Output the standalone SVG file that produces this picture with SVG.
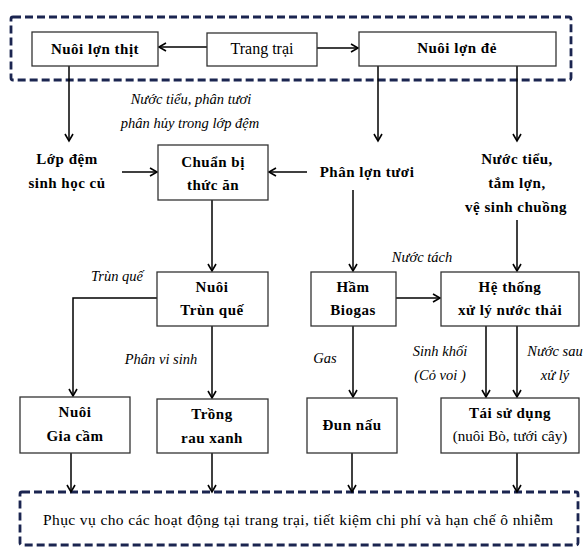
<svg xmlns="http://www.w3.org/2000/svg" width="587" height="547" viewBox="0 0 587 547" font-family="'Liberation Serif', 'DejaVu Serif', serif">
<defs>
<marker id="ah" markerWidth="10" markerHeight="10" refX="8" refY="5" orient="auto" markerUnits="userSpaceOnUse">
<path d="M1,1 L8,5 L1,9" fill="none" stroke="#000" stroke-width="1.6"/>
</marker>
<style>
.bx{fill:#fff;stroke:#333;stroke-width:1.3}
.dash{fill:none;stroke:#1b2550;stroke-width:2.8;stroke-dasharray:8 4}
.ar{fill:none;stroke:#000;stroke-width:1.5;marker-end:url(#ah)}
text{font-family:'Liberation Serif','DejaVu Serif',serif;fill:#000;text-anchor:middle}
.b{font-weight:bold;font-size:15px;letter-spacing:0.5px}
.r{font-size:15px}
.i{font-style:italic;font-size:14.5px}
</style>
</defs>
<rect class="dash" x="11" y="17" width="560" height="63" rx="2"/>
<rect class="dash" x="20" y="492" width="558" height="53" rx="2"/>
<g id="connectors">
<line class="ar" x1="207" y1="47" x2="159" y2="47"/>
<line class="ar" x1="317" y1="48" x2="358" y2="48"/>
<line class="ar" x1="69" y1="66" x2="69" y2="141"/>
<line class="ar" x1="378" y1="66" x2="378" y2="141"/>
<line class="ar" x1="517" y1="66" x2="517" y2="141"/>
<line class="ar" x1="122" y1="172" x2="157" y2="172"/>
<line class="ar" x1="307" y1="172" x2="269" y2="172"/>
<line class="ar" x1="212" y1="200" x2="212" y2="271"/>
<line class="ar" x1="353" y1="190" x2="353" y2="271"/>
<line class="ar" x1="517" y1="220" x2="517" y2="271"/>
<line class="ar" x1="396" y1="298" x2="440" y2="298"/>
<polyline class="ar" points="157,298 73,298 73,396"/>
<line class="ar" x1="212" y1="326" x2="212" y2="398"/>
<line class="ar" x1="353" y1="326" x2="353" y2="397"/>
<line class="ar" x1="486" y1="326" x2="486" y2="397"/>
<line class="ar" x1="517" y1="326" x2="517" y2="397"/>
<line class="ar" x1="71" y1="453" x2="71" y2="492"/>
<line class="ar" x1="212" y1="453" x2="212" y2="492"/>
<line class="ar" x1="352" y1="453" x2="352" y2="492"/>
<line class="ar" x1="517" y1="453" x2="517" y2="492"/>
<text class="i" x="191" y="104">Nước tiểu, phân tươi</text>
<text class="i" x="190" y="128">phân hủy trong lớp đệm</text>
<text class="i" x="422" y="262">Nước tách</text>
<text class="i" x="117" y="281">Trùn quế</text>
<text class="i" x="161" y="364">Phân vi sinh</text>
<text class="i" x="325" y="363">Gas</text>
<text class="i" x="440" y="356">Sinh khối</text>
<text class="i" x="440" y="380">(Cỏ voi )</text>
<text class="i" x="555" y="356">Nước sau</text>
<text class="i" x="555" y="380">xử lý</text>
</g>
<g id="nuoi-lon-thit"><rect class="bx" x="32" y="32" width="126" height="34"/><text class="b" x="95" y="54">Nuôi lợn thịt</text></g>
<g id="trang-trai"><rect class="bx" x="207" y="33" width="110" height="33"/><text class="r" x="262" y="54" style="font-size:16px">Trang trại</text></g>
<g id="nuoi-lon-de"><rect class="bx" x="359" y="32" width="197" height="34"/><text class="b" x="457" y="53">Nuôi lợn đẻ</text></g>
<g id="lop-dem"><text class="b" x="67" y="164">Lớp đệm</text><text class="b" x="67" y="188">sinh học củ</text></g>
<g id="chuan-bi"><rect class="bx" x="158" y="145" width="110" height="55"/><text class="b" x="213" y="167">Chuẩn bị</text><text class="b" x="213" y="190">thức ăn</text></g>
<g id="phan-lon-tuoi"><text class="b" x="367" y="177">Phân lợn tươi</text></g>
<g id="nuoc-tieu"><text class="b" x="517" y="164">Nước tiểu,</text><text class="b" x="517" y="188">tắm lợn,</text><text class="b" x="516" y="212">vệ sinh chuồng</text></g>
<g id="trun-que"><rect class="bx" x="157" y="272" width="111" height="54"/><text class="b" x="212" y="292">Nuôi</text><text class="b" x="212" y="315">Trùn quế</text></g>
<g id="ham-biogas"><rect class="bx" x="311" y="272" width="85" height="54"/><text class="b" x="353" y="292">Hầm</text><text class="b" x="353" y="315">Biogas</text></g>
<g id="he-thong"><rect class="bx" x="441" y="272" width="138" height="54"/><text class="b" x="510" y="292">Hệ thống</text><text class="b" x="510" y="315">xử lý nước thải</text></g>
<g id="gia-cam"><rect class="bx" x="20" y="397" width="110" height="56"/><text class="b" x="75" y="417">Nuôi</text><text class="b" x="75" y="441">Gia cầm</text></g>
<g id="rau-xanh"><rect class="bx" x="157" y="399" width="111" height="54"/><text class="b" x="212" y="419">Trồng</text><text class="b" x="212" y="443">rau xanh</text></g>
<g id="dun-nau"><rect class="bx" x="307" y="398" width="90" height="55"/><text class="b" x="352" y="430">Đun nấu</text></g>
<g id="tai-su-dung"><rect class="bx" x="441" y="398" width="138" height="55"/><text class="b" x="510" y="418">Tái sử dụng</text><text class="r" x="510" y="441">(nuôi Bò, tưới cây)</text></g>
<g id="phuc-vu"><text class="r" x="298" y="525" style="font-size:15.5px" textLength="510" lengthAdjust="spacing">Phục vụ cho các hoạt động tại trang trại, tiết kiệm chi phí và hạn chế ô nhiễm</text></g>
</svg>
